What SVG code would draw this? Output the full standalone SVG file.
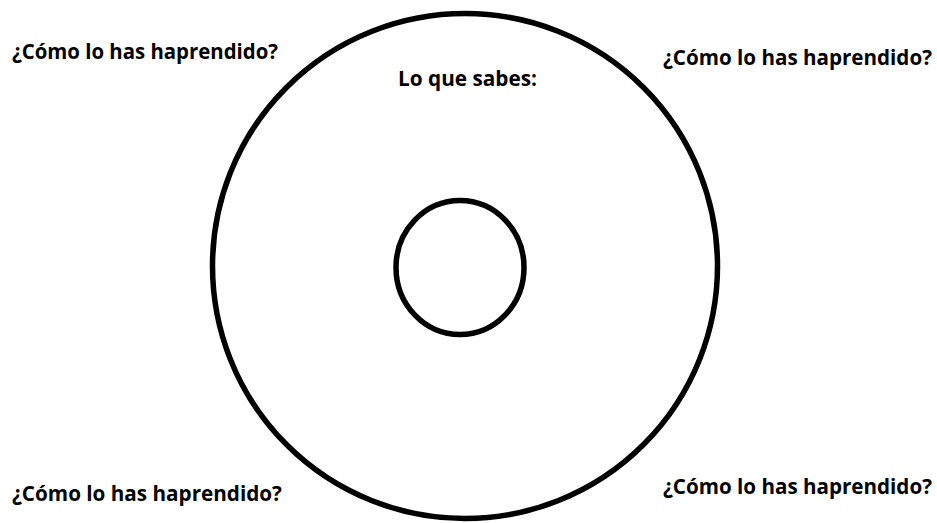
<svg xmlns="http://www.w3.org/2000/svg" width="937" height="523" viewBox="0 0 937 523">
<style>
.t{font-family:"Open Sans","Liberation Sans",sans-serif;font-weight:bold;font-size:21px;fill:#000}
.c{fill:none;stroke:#000;stroke-width:5.5}
</style>
<rect width="937" height="523" fill="#fff"/>
<g id="outer"><circle class="c" cx="465" cy="266" r="252.5"/>
<text class="t" x="398" y="86" textLength="139" lengthAdjust="spacingAndGlyphs">Lo que sabes:</text></g>
<g id="inner"><ellipse class="c" cx="460" cy="267.5" rx="64" ry="67"/></g>
<g id="labels">
<text class="t" x="12" y="59" textLength="266" lengthAdjust="spacingAndGlyphs">¿Cómo lo has haprendido?</text>
<text class="t" x="663" y="65" textLength="269" lengthAdjust="spacingAndGlyphs">¿Cómo lo has haprendido?</text>
<text class="t" x="12" y="501" textLength="270" lengthAdjust="spacingAndGlyphs">¿Cómo lo has haprendido?</text>
<text class="t" x="663" y="494" textLength="269" lengthAdjust="spacingAndGlyphs">¿Cómo lo has haprendido?</text>
</g>
<g id="connectors"/>
</svg>
